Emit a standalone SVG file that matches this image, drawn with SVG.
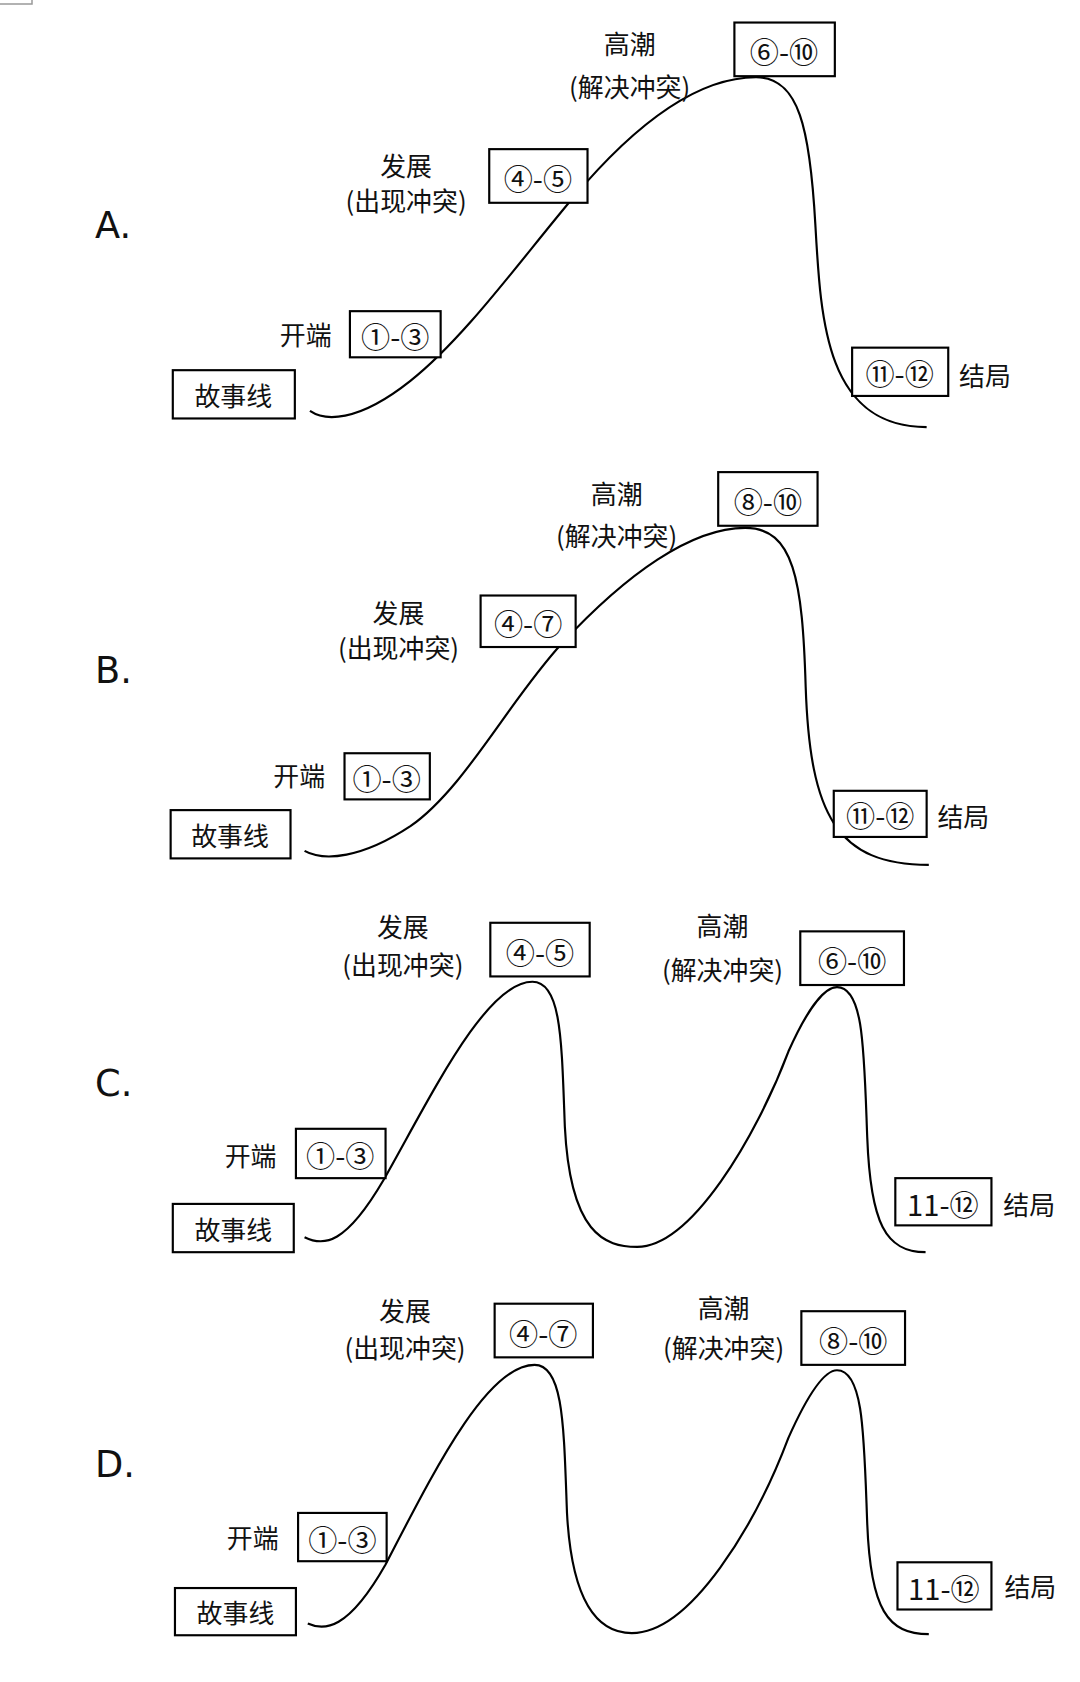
<svg xmlns="http://www.w3.org/2000/svg" width="1080" height="1682" viewBox="0 0 1080 1682">
<style>
.bx{fill:#fff;stroke:#000;stroke-width:2}
.cv{fill:none;stroke:#000;stroke-width:2}
.t{font-family:"Noto Sans CJK SC","Noto Sans",sans-serif;font-size:24px;fill:#111;text-anchor:middle;dominant-baseline:central}
.n{font-family:"Noto Sans CJK SC","DejaVu Sans",sans-serif;font-size:27px;fill:#111;text-anchor:middle;dominant-baseline:central}
.L{font-family:"DejaVu Sans",sans-serif;font-size:34px;fill:#111;dominant-baseline:central}
</style>
<rect width="1080" height="1682" fill="#fff"/>
<rect x="-2" y="-6" width="34" height="10" fill="none" stroke="#999" stroke-width="1.5"/>
<g transform="scale(1.08,1.073)">
<g id="connectors">
<path class="cv" d="M287,383 C300,392 330,395 380,355 C430,315 480,245 530,185 C580,125 640,72 700,72 C740,72 750,120 755,210 C760,300 765,398 858,398"/>
<path class="cv" d="M282,793 C300,803 335,800 380,770 C430,735 470,655 520,600 C580,535 640,492 690,492 C735,492 743,540 746,640 C750,760 775,806 860,806"/>
<path class="cv" d="M282,1153 C300,1162 320,1160 355,1100 C400,1020 450,915 493,915 C520,915 520,970 523,1050 C528,1150 560,1162 590,1162 C640,1162 700,1060 730,980 C750,935 765,920 775,920 C800,920 800,980 803,1060 C806,1140 820,1167 857,1167"/>
<path class="cv" d="M285,1513 C300,1520 322,1520 357,1458 C400,1375 450,1272 495,1272 C522,1272 522,1330 525,1410 C530,1505 560,1522 585,1522 C640,1522 700,1420 730,1340 C750,1295 765,1277 775,1277 C800,1277 800,1340 803,1420 C806,1500 822,1523 860,1523"/>
</g>
<text class="L" x="88" y="210">A.</text>
<text class="L" x="88" y="625">B.</text>
<text class="L" x="88" y="1010">C.</text>
<text class="L" x="88" y="1365">D.</text>

<g id="a-start"><rect class="bx" x="160" y="345" width="113" height="45"/><text class="t" x="216" y="368">故事线</text></g>
<g id="a-begin"><text class="t" x="283" y="311">开端</text><rect class="bx" x="324" y="290" width="84" height="43"/><text class="n" x="366" y="312">①-③</text></g>
<g id="a-dev"><text class="t" x="376" y="153">发展</text><text class="t" x="376" y="186">(出现冲突)</text><rect class="bx" x="453" y="139" width="91" height="50"/><text class="n" x="498" y="165">④-⑤</text></g>
<g id="a-climax"><text class="t" x="583" y="40">高潮</text><text class="t" x="583" y="80">(解决冲突)</text><rect class="bx" x="680" y="21" width="93" height="50"/><text class="n" x="726" y="47">⑥-⑩</text></g>
<g id="a-end"><rect class="bx" x="789" y="324" width="89" height="45"/><text class="n" x="833" y="347">⑪-⑫</text><text class="t" x="912" y="349">结局</text></g>

<g id="b-start"><rect class="bx" x="158" y="755" width="111" height="45"/><text class="t" x="213" y="778">故事线</text></g>
<g id="b-begin"><text class="t" x="277" y="722">开端</text><rect class="bx" x="319" y="702" width="79" height="43"/><text class="n" x="358" y="724">①-③</text></g>
<g id="b-dev"><text class="t" x="369" y="570">发展</text><text class="t" x="369" y="603">(出现冲突)</text><rect class="bx" x="445" y="555" width="88" height="48"/><text class="n" x="489" y="580">④-⑦</text></g>
<g id="b-climax"><text class="t" x="571" y="459">高潮</text><text class="t" x="571" y="498">(解决冲突)</text><rect class="bx" x="665" y="440" width="92" height="50"/><text class="n" x="711" y="466">⑧-⑩</text></g>
<g id="b-end"><rect class="bx" x="772" y="737" width="86" height="43"/><text class="n" x="815" y="759">⑪-⑫</text><text class="t" x="892" y="760">结局</text></g>

<g id="c-start"><rect class="bx" x="160" y="1122" width="112" height="45"/><text class="t" x="216" y="1145">故事线</text></g>
<g id="c-begin"><text class="t" x="232" y="1076">开端</text><rect class="bx" x="274" y="1052" width="83" height="46"/><text class="n" x="315" y="1076">①-③</text></g>
<g id="c-dev"><text class="t" x="373" y="863">发展</text><text class="t" x="373" y="898">(出现冲突)</text><rect class="bx" x="454" y="860" width="92" height="50"/><text class="n" x="500" y="886">④-⑤</text></g>
<g id="c-climax"><text class="t" x="669" y="862">高潮</text><text class="t" x="669" y="903">(解决冲突)</text><rect class="bx" x="741" y="868" width="96" height="50"/><text class="n" x="789" y="894">⑥-⑩</text></g>
<g id="c-end"><rect class="bx" x="829" y="1098" width="89" height="44"/><text class="n" x="873" y="1121">11-⑫</text><text class="t" x="953" y="1122">结局</text></g>

<g id="d-start"><rect class="bx" x="162" y="1480" width="112" height="44"/><text class="t" x="218" y="1502">故事线</text></g>
<g id="d-begin"><text class="t" x="234" y="1432">开端</text><rect class="bx" x="276" y="1410" width="82" height="45"/><text class="n" x="317" y="1433">①-③</text></g>
<g id="d-dev"><text class="t" x="375" y="1220">发展</text><text class="t" x="375" y="1255">(出现冲突)</text><rect class="bx" x="458" y="1215" width="91" height="50"/><text class="n" x="503" y="1241">④-⑦</text></g>
<g id="d-climax"><text class="t" x="670" y="1218">高潮</text><text class="t" x="670" y="1255">(解决冲突)</text><rect class="bx" x="742" y="1222" width="96" height="50"/><text class="n" x="790" y="1248">⑧-⑩</text></g>
<g id="d-end"><rect class="bx" x="831" y="1456" width="87" height="44"/><text class="n" x="874" y="1479">11-⑫</text><text class="t" x="954" y="1478">结局</text></g>
</g>
</svg>
